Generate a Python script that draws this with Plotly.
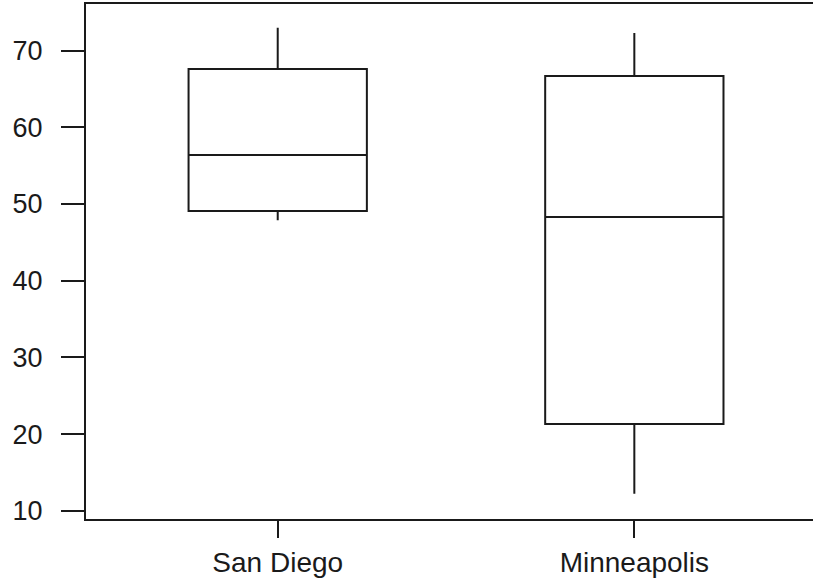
import plotly.graph_objects as go

# Five-number summaries per city
cities = ["San Diego", "Minneapolis"]
lower_whisker = [47.9, 12.2]
q1_values = [49.1, 21.3]
medians = [56.4, 48.3]
q3_values = [67.6, 66.7]
upper_whisker = [73.0, 72.3]
y_ticks = [10, 20, 30, 40, 50, 60, 70]

ink = "#1a1a1a"
font_family = "Liberation Sans, Arial, sans-serif"

fig = go.Figure(
    go.Box(
        x=cities,
        lowerfence=lower_whisker,
        q1=q1_values,
        median=medians,
        q3=q3_values,
        upperfence=upper_whisker,
        width=0.5,
        whiskerwidth=0,
        fillcolor="white",
        line=dict(color=ink, width=2),
        boxpoints=False,
        showlegend=False,
    )
)

fig.update_layout(
    width=813,
    height=579,
    margin=dict(l=86, r=0, t=4, b=60),
    paper_bgcolor="white",
    plot_bgcolor="white",
    font=dict(family=font_family, size=27, color=ink),
    xaxis=dict(
        type="category",
        range=[-0.5376, 1.501],
        showline=True,
        mirror=True,
        linecolor=ink,
        linewidth=2,
        ticks="outside",
        ticklen=17,
        tickwidth=2,
        tickcolor=ink,
        tickfont=dict(size=28),
        showgrid=False,
        zeroline=False,
        ticklabelstandoff=0,
    ),
    yaxis=dict(
        range=[8.92, 76.09],
        tickvals=y_ticks,
        showline=True,
        linecolor=ink,
        linewidth=2,
        ticks="outside",
        ticklen=23,
        tickwidth=2,
        tickcolor=ink,
        tickfont=dict(size=27),
        showgrid=False,
        zeroline=False,
        ticklabelstandoff=13,
    ),
)

fig.write_html("out.html")
